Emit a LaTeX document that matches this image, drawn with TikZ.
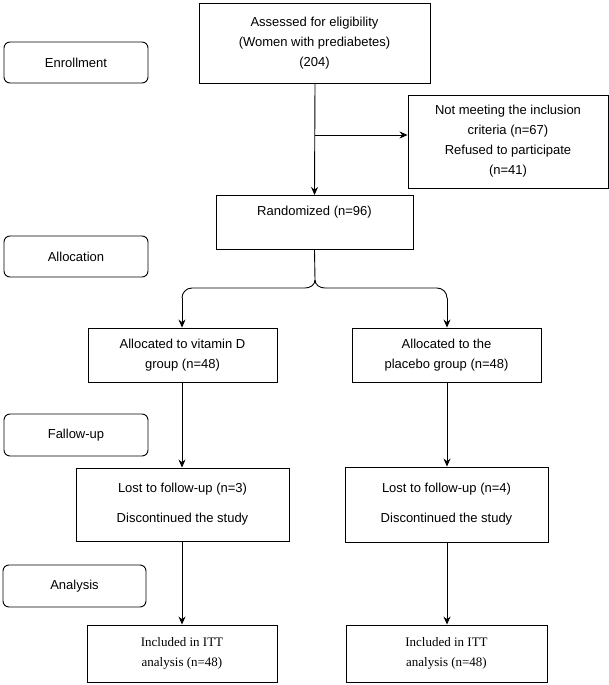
\documentclass[tikz,border=0pt]{standalone}
\usepackage{fontspec}
\usetikzlibrary{arrows.meta}
\setmainfont{Liberation Sans}
\newfontfamily\serifx{Liberation Serif}
\begin{document}
\begin{tikzpicture}[x=1pt,y=-1pt,
  box/.style={draw,line width=0.9pt,align=center,inner sep=0pt,font=\fontsize{13}{20}\selectfont},
  lab/.style={draw,line width=0.9pt,rounded corners=6pt,align=center,inner sep=0pt,font=\fontsize{13}{16}\selectfont},
  arr/.style={line width=0.9pt,-{Stealth[length=8pt,width=7pt]}}]
\useasboundingbox (0,0) rectangle (609,685);
\newcommand{\bx}[6]{\node[#1,minimum width=#4-#2,minimum height=#5-#3] (#6) at ({(#2+#4)/2},{(#3+#5)/2})}
\bx{box}{199}{3}{430}{83}{ass} {Assessed for eligibility\\(Women with prediabetes)\\(204)};
\bx{lab}{4}{42}{148}{83}{enr} {Enrollment};
\bx{box}{408}{95}{608}{188}{not} {Not meeting the inclusion\\criteria (n=67)\\Refused to participate\\(n=41)};
\node[box,minimum width=197,minimum height=54,anchor=north,text depth=24pt] (ran) at (314.5,195) {Randomized (n=96)};
\bx{lab}{4}{236}{148}{277}{all} {Allocation};
\bx{box}{88}{328}{277}{382}{avd} {Allocated to vitamin D\\group (n=48)};
\bx{box}{352}{328}{541}{382}{apl} {Allocated to the\\placebo group (n=48)};
\bx{lab}{4}{414}{148}{456}{fol} {Fallow-up};
\bx{box}{76}{468}{289}{541}{l1} {Lost to follow-up (n=3)\\[10pt]Discontinued the study};
\bx{box}{345}{467}{548}{542}{l2} {Lost to follow-up (n=4)\\[10pt]Discontinued the study};
\bx{lab}{3}{565}{146}{607}{ana} {Analysis};
\bx{box,font=\serifx\fontsize{13}{20}\selectfont}{87}{625}{277}{682}{i1} {Included in ITT\\analysis (n=48)};
\bx{box,font=\serifx\fontsize{13}{20}\selectfont}{346}{625}{547}{682}{i2} {Included in ITT\\analysis (n=48)};
\coordinate (br) at (315,135);
\draw[arr] (ass.south -| br) -- (ran.north);
\draw[arr] (br) -- (not.west |- br);
\draw[line width=0.9pt] (ran.south) -- (315,280) to[out=-90,in=0] (305,288) -- (192,288) to[out=180,in=90] (182,298);
\draw[arr] (182,298) -- (avd.north -| 182,0);
\draw[line width=0.9pt] (315,280) to[out=-90,in=180] (325,288) -- (437,288) to[out=0,in=90] (447,298);
\draw[arr] (447,298) -- (apl.north -| 447,0);
\draw[arr] (avd.south -| 182,0) -- (l1.north -| 182,0);
\draw[arr] (apl.south -| 447,0) -- (l2.north -| 447,0);
\draw[arr] (l1.south -| 182,0) -- (i1.north -| 182,0);
\draw[arr] (l2.south -| 447,0) -- (i2.north -| 447,0);
\end{tikzpicture}
\end{document}
